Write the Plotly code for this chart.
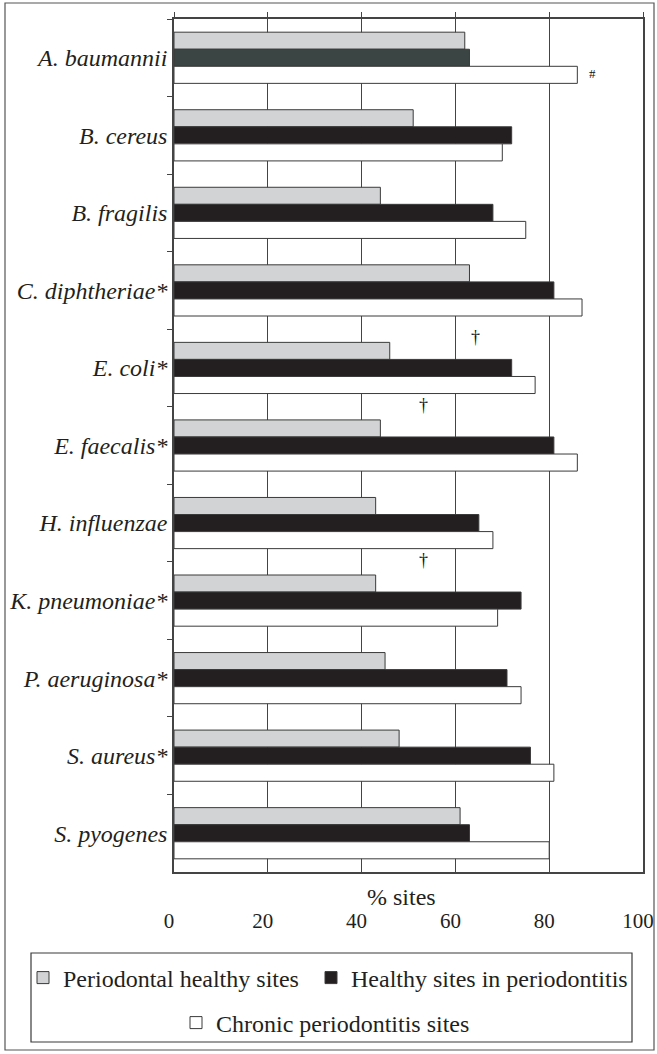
import plotly.graph_objects as go

categories = ["A. baumannii", "B. cereus", "B. fragilis", "C. diphtheriae*", "E. coli*",
              "E. faecalis*", "H. influenzae", "K. pneumoniae*", "P. aeruginosa*",
              "S. aureus*", "S. pyogenes"]
periodontal_healthy = [62, 51, 44, 63, 46, 44, 43, 43, 45, 48, 61]
healthy_in_perio = [63, 72, 68, 81, 72, 81, 65, 74, 71, 76, 63]
chronic_perio = [86, 70, 75, 87, 77, 86, 68, 69, 74, 81, 80]
series_names = ["Periodontal healthy sites", "Healthy sites in periodontitis",
                "Chronic periodontitis sites"]
x_ticks = [0, 20, 40, 60, 80, 100]

# significance marks: (text, x value, category position)
marks = [("#", 89.3, 0.2), ("\u2020", 64.3, 3.6), ("\u2020", 53.3, 4.48), ("\u2020", 53.3, 6.48)]

W, H = 657, 1054
L, R, T, B = 174, 14, 19, 182
pw, ph = W - L - R, H - T - B

def px(x):
    return (x - L) / pw

def py(y):
    return (H - B - y) / ph

FONT = "Liberation Serif"
INK = "#231f20"
EDGE = "#3a3a3a"
GRAY, BLACK, SLATE, WHITE = "#d1d3d4", "#231f20", "#3b4543", "#ffffff"

dark_colors = [SLATE] + [BLACK] * (len(categories) - 1)

fig = go.Figure()
fig.add_trace(go.Bar(y=categories, x=periodontal_healthy, orientation="h", name=series_names[0],
                     marker=dict(color=GRAY, line=dict(color=EDGE, width=1)),
                     legend="legend"))
fig.add_trace(go.Bar(y=categories, x=healthy_in_perio, orientation="h", name=series_names[1],
                     marker=dict(color=dark_colors, line=dict(color=EDGE, width=1)),
                     showlegend=False))
fig.add_trace(go.Bar(y=categories, x=chronic_perio, orientation="h", name=series_names[2],
                     marker=dict(color=WHITE, line=dict(color=EDGE, width=1)),
                     legend="legend3"))
# legend entry for the dark series (plain black swatch), kept on the overlay axis
fig.add_trace(go.Bar(y=[None], x=[None], orientation="h", name=series_names[1], xaxis="x2",
                     marker=dict(color=BLACK, line=dict(color=EDGE, width=1)),
                     legend="legend2", hoverinfo="skip"))

for txt, xv, yv in marks:
    fig.add_annotation(text=txt, x=xv, y=yv, xref="x", yref="y", showarrow=False,
                       font=dict(family=FONT, size=18 if txt != "#" else 13, color="#111111"))

fig.add_annotation(text="% sites", x=48.6, xref="x", y=py(897), yref="paper",
                   yanchor="middle", showarrow=False, font=dict(family=FONT, size=24, color=INK))

# legend frame
fig.add_shape(type="rect", xref="paper", yref="paper", x0=px(31), x1=px(632), y0=py(1042), y1=py(953),
              line=dict(color=EDGE, width=1.2), fillcolor="rgba(0,0,0,0)")
# outer frame
fig.add_shape(type="rect", xref="paper", yref="paper", x0=px(5), x1=px(654), y0=py(1050), y1=py(3),
              line=dict(color="#555555", width=1.2), fillcolor="rgba(0,0,0,0)")

leg_font = dict(family=FONT, size=24, color=INK)
fig.update_layout(
    width=W, height=H,
    margin=dict(l=L, r=R, t=T, b=B, autoexpand=False),
    paper_bgcolor="white", plot_bgcolor="white",
    barmode="group", bargap=0.34, bargroupgap=0,
    font=dict(family=FONT, color=INK),
    xaxis=dict(range=[0, 100], tickvals=x_ticks, ticktext=[str(v) for v in x_ticks],
               showgrid=True, gridcolor="#444444", gridwidth=1, zeroline=False,
               showline=True, linecolor="#444444", linewidth=1.5, ticks="",
               ticklabelstandoff=29, ticklabelshift=-5, automargin=False,
               tickfont=dict(family=FONT, size=21, color=INK)),
    xaxis2=dict(range=[0, 100], overlaying="x", side="top", tickvals=x_ticks,
                showticklabels=False, ticks="outside", ticklen=5, tickcolor="#444444",
                showline=True, linecolor="#444444", linewidth=1.5, showgrid=False,
                zeroline=False, automargin=False),
    yaxis=dict(type="category", categoryorder="array", categoryarray=categories,
               autorange="reversed", tickson="boundaries", ticks="outside", ticklen=5,
               tickcolor="#444444", showline=True, linecolor="#444444", linewidth=1.5,
               mirror=True, showgrid=False, automargin=False,
               tickfont=dict(family=FONT, size=24, color=INK, style="italic")),
    legend=dict(orientation="h", x=px(23), xanchor="left", y=py(978), yanchor="middle",
                font=leg_font, bgcolor="rgba(0,0,0,0)", itemwidth=30),
    legend2=dict(orientation="h", x=px(311), xanchor="left", y=py(978), yanchor="middle",
                 font=leg_font, bgcolor="rgba(0,0,0,0)", itemwidth=30),
    legend3=dict(orientation="h", x=px(176), xanchor="left", y=py(1023), yanchor="middle",
                 font=leg_font, bgcolor="rgba(0,0,0,0)", itemwidth=30),
    showlegend=True,
)

fig.write_html("out.html", config=dict(displayModeBar=False),
               post_script="document.body.style.margin='0';")
